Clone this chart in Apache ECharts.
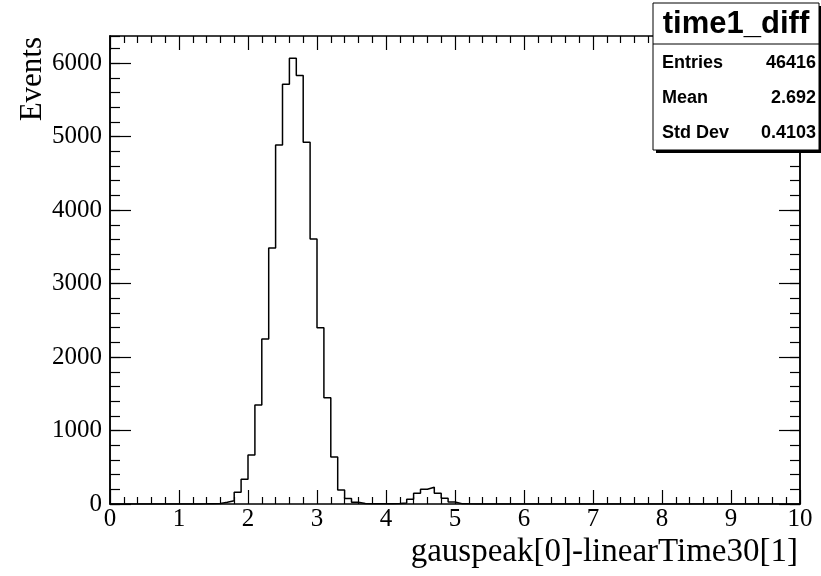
<!DOCTYPE html>
<html>
<head>
<meta charset="utf-8">
<script src="https://cdn.jsdelivr.net/npm/echarts@6/dist/echarts.min.js"></script>
<style>html,body{margin:0;padding:0;background:#fff}#c{width:821px;height:576px}</style>
</head>
<body>
<div id="c"></div>
<script>
// ---- data ----
const binWidth = 0.1;
const xMin = 0, xMax = 10;
const yMax = 6370;
// 100 bins of width 0.1 from 0 to 10
const counts = [
  0,0,0,0,0,0,0,0,0,0,        // 0.0 - 1.0
  0,0,0,2,5,8,23,45,159,336,  // 1.0 - 2.0
  667,1348,2246,3485,4888,5714,6068,5831,4924,3608, // 2.0 - 3.0
  2400,1447,640,190,75,25,8,4,3,3,  // 3.0 - 4.0
  4,6,14,64,146,200,227,146,78,27,  // 4.0 - 5.0
  5,2,0,0,0,0,0,0,0,0,        // 5.0 - 6.0
  0,0,0,0,0,0,0,0,0,0,        // 6.0 - 7.0
  0,0,0,0,0,0,0,0,0,0,        // 7.0 - 8.0
  0,0,0,0,0,0,0,0,0,0,        // 8.0 - 9.0
  0,0,0,0,0,0,0,0,0,0         // 9.0 - 10.0
];
const xTicks = [0,1,2,3,4,5,6,7,8,9,10];
const yTicks = [0,1000,2000,3000,4000,5000,6000];
const histName = 'time1_diff';
const statsLabels = ['Entries', 'Mean', 'Std Dev'];
const statsValues = ['46416', '2.692', '0.4103'];
const xTitle = 'gauspeak[0]-linearTime30[1]';
const yTitle = 'Events';

// ---- build step data ----
const stepData = counts.map((v, i) => [+(xMin + i * binWidth).toFixed(4), v]);
stepData.push([xMax, counts[counts.length - 1]]);

const serif = 'Liberation Serif';
const sans = 'Liberation Sans';
const black = '#000';

function xAx(pos, labels) {
  return {
    type: 'value', position: pos, min: xMin, max: xMax, interval: 1,
    axisLine: { show: true, onZero: false, lineStyle: { color: black, width: 1.5 } },
    axisTick: { show: true, inside: true, length: 14, lineStyle: { color: black, width: 1.2 } },
    minorTick: { show: true, splitNumber: 5, length: 7, lineStyle: { color: black, width: 1.2 } },
    axisLabel: { show: labels, color: black, fontFamily: serif, fontSize: 25, margin: 3,
      formatter: v => xTicks.includes(v) ? String(v) : '' },
    splitLine: { show: false }, minorSplitLine: { show: false }
  };
}
function yAx(pos, interval, len, labels) {
  return {
    type: 'value', position: pos, min: 0, max: yMax, interval: interval,
    axisLine: { show: true, onZero: false, lineStyle: { color: black, width: 1.5 } },
    axisTick: { show: true, inside: true, length: len, lineStyle: { color: black, width: 1.2 } },
    axisLabel: { show: labels, showMaxLabel: false, color: black, fontFamily: serif, fontSize: 25, margin: 8,
      formatter: v => yTicks.includes(v) ? String(v) : '' },
    splitLine: { show: false }
  };
}

const boxL = 653, boxT = 3, boxW = 166, boxH = 147;
const graphics = [
  { type: 'rect', shape: { x: boxL + 3, y: boxT + 3, width: boxW, height: boxH }, style: { fill: black }, z: 100 },
  { type: 'rect', shape: { x: boxL, y: boxT, width: boxW, height: boxH }, style: { fill: '#fff', stroke: black, lineWidth: 1 }, z: 101 },
  { type: 'line', shape: { x1: boxL, y1: 44, x2: boxL + boxW, y2: 44 }, style: { stroke: black, lineWidth: 1 }, z: 102 },
  { type: 'text', x: boxL + boxW / 2, y: 24, style: { text: histName, fill: black, font: 'bold 31px ' + sans, align: 'center', verticalAlign: 'middle' }, z: 103 },
  { type: 'text', x: 798, y: 552, style: { text: xTitle, fill: black, font: '33px ' + serif, align: 'right', verticalAlign: 'middle' }, z: 103 },
  { type: 'text', x: 33, y: 37, rotation: Math.PI / 2, style: { text: yTitle, fill: black, font: '31px ' + serif, align: 'right', verticalAlign: 'middle' }, z: 103 }
];
const rowY = [63, 98, 133];
statsLabels.forEach((lab, i) => {
  graphics.push({ type: 'text', x: 662, y: rowY[i], style: { text: lab, fill: black, font: 'bold 18px ' + sans, align: 'left', verticalAlign: 'middle' }, z: 103 });
  graphics.push({ type: 'text', x: 816, y: rowY[i], style: { text: statsValues[i], fill: black, font: 'bold 18px ' + sans, align: 'right', verticalAlign: 'middle' }, z: 103 });
});

const chart = echarts.init(document.getElementById('c'), null, { renderer: 'canvas' });
chart.setOption({
  animation: false,
  backgroundColor: '#fff',
  grid: { left: 110, right: 21, top: 36, bottom: 72, show: false, containLabel: false },
  xAxis: [xAx('bottom', true), xAx('top', false)],
  yAxis: [yAx('left', 1000, 21, true), yAx('left', 200, 10, false), yAx('right', 1000, 21, false), yAx('right', 200, 10, false)],
  series: [{
    type: 'line', xAxisIndex: 0, yAxisIndex: 0, data: stepData, step: 'end',
    symbol: 'none', lineStyle: { color: black, width: 1.5 }, silent: true
  }],
  graphic: graphics
});
</script>
</body>
</html>
